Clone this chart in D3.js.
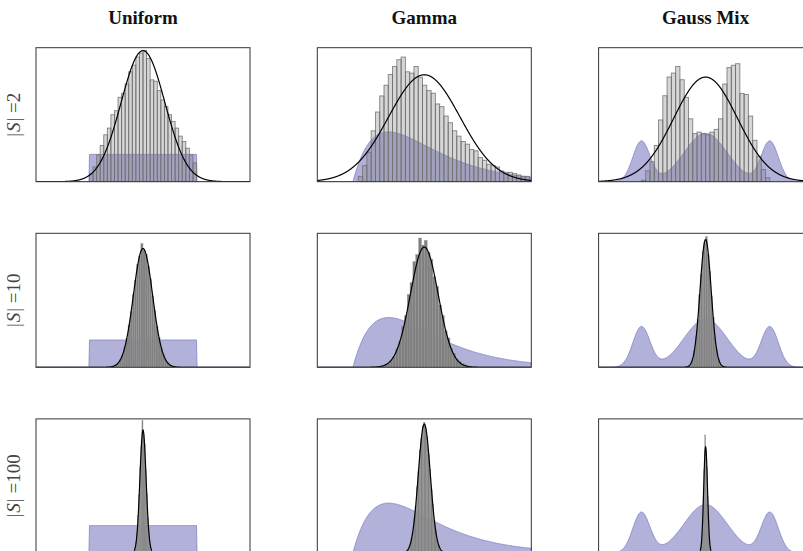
<!DOCTYPE html>
<html>
<head>
<meta charset="utf-8">
<script src="https://cdn.jsdelivr.net/npm/d3@7"></script>
<style>
  body { margin: 0; background: #fff; }
</style>
</head>
<body>
<div id="chart"></div>
<script>
// columns = base distribution, rows = size of the sample |S|
var distributions = ["Uniform", "Gamma", "Gauss Mix"];
var sampleSizes = [2, 10, 100];

// x range shown in each column, top of the base density axis
var xDomains = [[-0.5, 1.5], [-1, 5], [-5, 5]];
var baseTops = [4.9, 0.99, 0.663];

// base distributions
var uniformRange = [0, 1];
var gammaShape = 2, gammaScale = 1;
var mixWeights = [0.2, 0.6, 0.2];
var mixMeans = [-3, 0, 3];
var mixSds = [0.4, 1.0, 0.4];

// normal approximation of the sample mean, per row then column
var normalMeans = [[0.5, 2, 0], [0.5, 2, 0], [0.5, 2, 0]];
var normalSds = [[0.204, 1.0, 1.49], [0.09, 0.39, 0.26], [0.029, 0.17, 0.09]];
var densityTops = [[2.0, 0.5, 0.343], [5.0, 1.14, 1.61], [15, 2.44, 5.6]];

// histograms of the sample means (density per bin)
var histStarts = [[0, 0.15, -3], [0.2, 0.8, -0.96], [0.38, 1.42, -0.36]];
var histWidths = [[1 / 30, 0.12, 0.2], [0.02, 0.08, 0.08], [0.01, 0.04, 0.04]];

var histUniform2 = [0.12, 0.22, 0.40, 0.54, 0.70, 0.80, 1.00, 1.06, 1.26, 1.32, 1.46, 1.64, 1.74, 1.86, 1.92,
    1.96, 1.84, 1.52, 1.50, 1.36, 1.22, 1.12, 1.00, 0.90, 0.80, 0.68, 0.60, 0.50, 0.40, 0.28];
var histGamma2 = [0.02, 0.06, 0.11, 0.19, 0.26, 0.32, 0.36, 0.40, 0.43, 0.455, 0.465, 0.41, 0.405, 0.43, 0.39,
    0.36, 0.34, 0.33, 0.29, 0.28, 0.245, 0.22, 0.19, 0.17, 0.15, 0.14, 0.12, 0.115, 0.09, 0.08,
    0.065, 0.06, 0.055, 0.04, 0.035, 0.035, 0.03, 0.025, 0.02, 0.02];
var histMix2 = [0.004, 0.028, 0.051, 0.093, 0.158, 0.220, 0.268, 0.278, 0.295, 0.261, 0.216, 0.161, 0.123, 0.127, 0.123,
    0.120, 0.127, 0.134, 0.161, 0.250, 0.292, 0.298, 0.302, 0.226, 0.223, 0.168, 0.106, 0.065, 0.031, 0.010];

var histUniform10 = [0.02, 0.05, 0.10, 0.16, 0.30, 0.47, 0.76, 1.08, 1.58, 2.08, 2.72, 3.24, 3.84, 4.15, 4.62,
    4.38, 4.22, 3.76, 3.30, 2.66, 2.12, 1.54, 1.12, 0.73, 0.49, 0.28, 0.17, 0.09, 0.05, 0.02];
var histGamma10 = [0.01, 0.02, 0.03, 0.06, 0.09, 0.16, 0.22, 0.35, 0.44, 0.62, 0.72, 0.90, 0.96, 1.10, 1.04,
    1.08, 0.98, 0.92, 0.77, 0.69, 0.53, 0.44, 0.31, 0.25, 0.16, 0.12, 0.07, 0.05, 0.03, 0.02, 0.01, 0.01, 0.0];
var histMix10 = [0.0, 0.01, 0.02, 0.05, 0.11, 0.2, 0.37, 0.58, 0.87, 1.12, 1.39, 1.50, 1.57, 1.36, 1.15, 0.85,
    0.6, 0.36, 0.21, 0.1, 0.05, 0.02, 0.01, 0.0];

var histUniform100 = [0.0, 0.02, 0.06, 0.2, 0.47, 1.14, 2.22, 4.2, 6.5, 9.6, 11.9, 14.8, 13.3, 12.2, 9.3, 6.7,
    4.0, 2.34, 1.08, 0.5, 0.17, 0.07, 0.02, 0.0];
var histGamma100 = [0.01, 0.02, 0.04, 0.09, 0.14, 0.26, 0.39, 0.62, 0.85, 1.20, 1.49, 1.86, 2.07, 2.31, 2.38,
    2.26, 2.12, 1.80, 1.52, 1.16, 0.88, 0.59, 0.41, 0.24, 0.15, 0.08, 0.05, 0.02, 0.01, 0.0];
var histMix100 = [0.0, 0.02, 0.07, 0.22, 0.62, 1.3, 2.42, 3.5, 4.93, 4.2, 3.6, 2.36, 1.34, 0.58, 0.23, 0.06, 0.02, 0.0];

var histograms = [
    [histUniform2, histGamma2, histMix2],
    [histUniform10, histGamma10, histMix10],
    [histUniform100, histGamma100, histMix100]
];

var chart_width = 803;
var chart_height = 551;
var panel_w = 214, panel_h = 134;
var panel_left = 36, panel_top = 47.7;
var col_step = 281.3, row_step = 185.6;

// density functions of the three base distributions
function normalPdf(v, m, s) {
    return Math.exp(-0.5 * Math.pow((v - m) / s, 2)) / (s * Math.sqrt(2 * Math.PI));
}
function factorial(k) {
    var f = 1;
    for (var i = 2; i <= k; i++) f *= i;
    return f;
}
var baseDensity = [
    function (v) {
        return (v >= uniformRange[0] && v <= uniformRange[1]) ? 1 / (uniformRange[1] - uniformRange[0]) : 0;
    },
    function (v) {
        if (v <= 0) return 0;
        return Math.pow(v, gammaShape - 1) * Math.exp(-v / gammaScale) /
                (factorial(gammaShape - 1) * Math.pow(gammaScale, gammaShape));
    },
    function (v) {
        var t = 0;
        mixWeights.forEach(function (w, k) {
            t += w * normalPdf(v, mixMeans[k], mixSds[k]);
        });
        return t;
    }
];

var svg = d3.select("#chart")
        .append("svg")
        .attr("width", chart_width)
        .attr("height", chart_height)
        .style("font-family", "'Liberation Serif', 'DejaVu Serif', serif");

// column titles
distributions.forEach(function (name, c) {
    svg.append("text")
            .attr("x", panel_left + c * col_step + panel_w / 2)
            .attr("y", 24)
            .attr("text-anchor", "middle")
            .style("font-weight", "bold")
            .style("font-size", "19px")
            .attr("fill", "#111")
            .text(name);
});

sampleSizes.forEach(function (n, r) {
    var py = panel_top + r * row_step;

    // row label |S| = n
    var label = svg.append("text")
            .attr("transform", "translate(20," + (py + panel_h / 2) + ") rotate(-90)")
            .attr("text-anchor", "middle")
            .attr("fill", "#444")
            .style("font-size", "19px");
    label.append("tspan").text("|");
    label.append("tspan").attr("dx", 1).style("font-style", "italic").text("S");
    label.append("tspan").attr("dx", 1).text("| =" + n);

    distributions.forEach(function (name, c) {
        var px = panel_left + c * col_step;
        var g = svg.append("g")
                .attr("transform", "translate(" + px + "," + py + ")");

        var clipId = "clip-" + r + "-" + c;
        g.append("clipPath").attr("id", clipId)
                .append("rect")
                .attr("width", panel_w)
                .attr("height", panel_h);
        var inner = g.append("g").attr("clip-path", "url(#" + clipId + ")");

        var x = d3.scaleLinear().domain(xDomains[c]).range([0, panel_w]);
        var y = d3.scaleLinear().domain([0, densityTops[r][c]]).range([panel_h, 0]);
        var yBase = d3.scaleLinear().domain([0, baseTops[c]]).range([panel_h, 0]);

        var grid = d3.range(0, 401).map(function (k) {
            return xDomains[c][0] + (xDomains[c][1] - xDomains[c][0]) * k / 400;
        });

        // base distribution
        var area = d3.area()
                .x(function (v) { return x(v); })
                .y0(panel_h)
                .y1(function (v) { return yBase(baseDensity[c](v)); });
        inner.append("path")
                .datum(grid)
                .attr("d", area)
                .attr("fill", "#b1b1da")
                .attr("stroke", "#8383c6")
                .attr("stroke-width", 0.8);

        // histogram of the sample means
        var start = histStarts[r][c], bw = histWidths[r][c];
        inner.selectAll("rect.bar")
                .data(histograms[r][c])
                .enter()
                .append("rect")
                .attr("class", "bar")
                .attr("x", function (d, i) { return x(start + i * bw); })
                .attr("width", function (d, i) { return x(start + (i + 1) * bw) - x(start + i * bw); })
                .attr("y", function (d) { return y(d); })
                .attr("height", function (d) { return panel_h - y(d); })
                .attr("fill", r === 0 ? "rgba(128,128,128,0.32)" : "#808080")
                .attr("stroke", r === 0 ? "rgba(110,110,110,0.85)" : "#9a9a9a")
                .attr("stroke-width", r === 0 ? 0.9 : 0.4);

        // normal approximation
        var line = d3.line()
                .x(function (v) { return x(v); })
                .y(function (v) { return y(normalPdf(v, normalMeans[r][c], normalSds[r][c])); });
        var fine = d3.range(0, 1601).map(function (k) {
            return xDomains[c][0] + (xDomains[c][1] - xDomains[c][0]) * k / 1600;
        });
        inner.append("path")
                .datum(fine)
                .attr("d", line)
                .attr("fill", "none")
                .attr("stroke", "#000")
                .attr("stroke-width", 1.2);

        // frame
        g.append("rect")
                .attr("width", panel_w)
                .attr("height", panel_h)
                .attr("fill", "none")
                .attr("stroke", "#333")
                .attr("stroke-width", 1);
    });
});
</script>
</body>
</html>
